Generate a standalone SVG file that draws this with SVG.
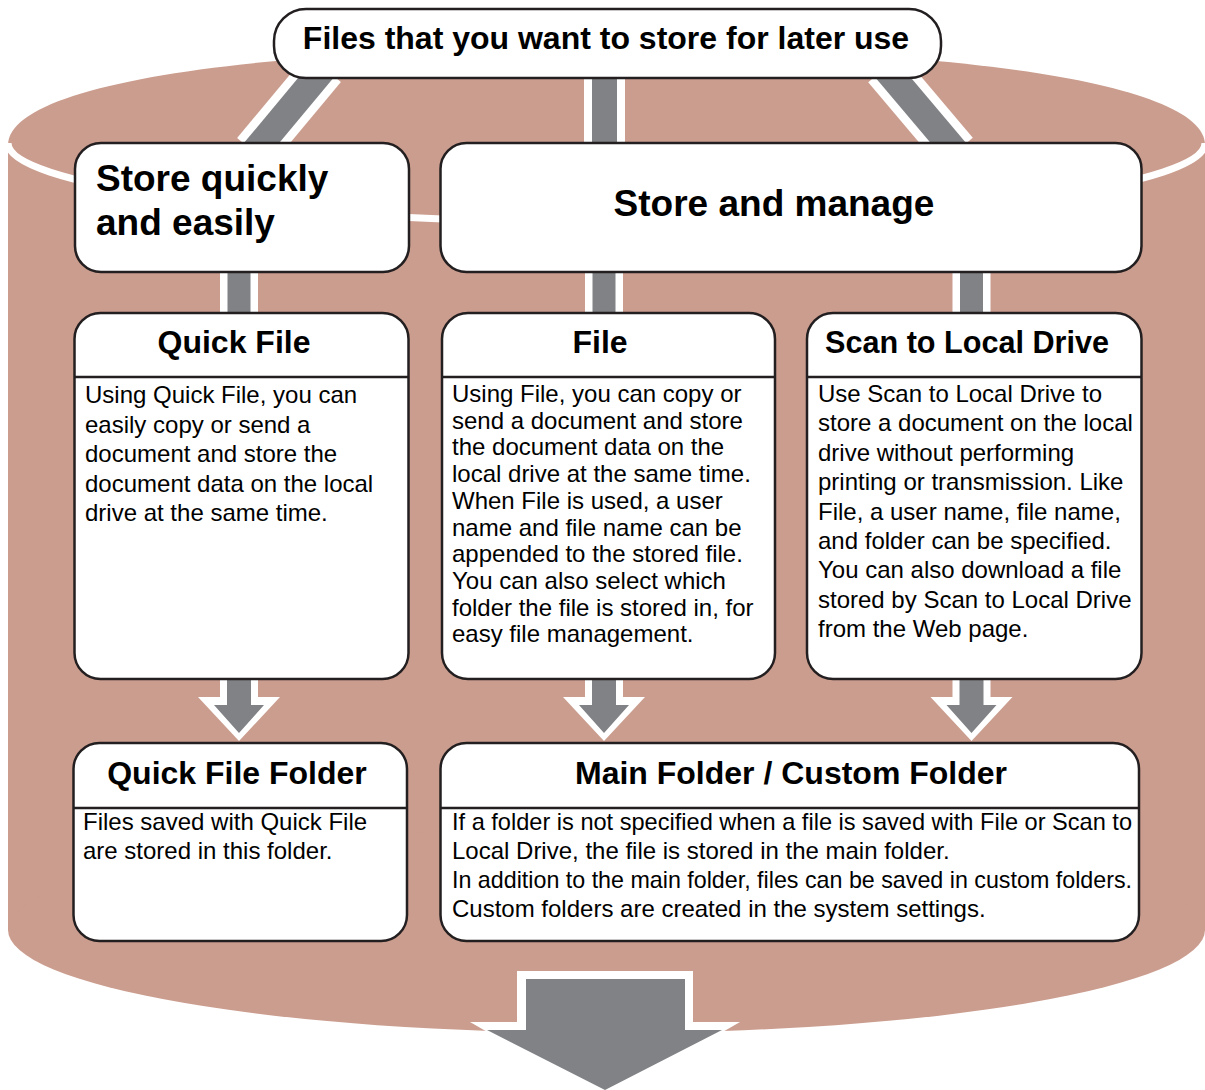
<svg xmlns="http://www.w3.org/2000/svg" xmlns:xlink="http://www.w3.org/1999/xlink" width="1205" height="1090" viewBox="0 0 1205 1090">
<style>
.pink{fill:#cb9d8e}
.box{fill:#fff;stroke:#231f20;stroke-width:2.5}
.dv{stroke:#231f20;stroke-width:2.5;fill:none}
.t{font-family:"Liberation Sans",Arial,Helvetica,sans-serif;fill:#000}
.big{font-size:37px;font-weight:bold}
.hd{font-size:32px;font-weight:bold}
.bd{font-size:24px}
.wb{stroke:#fff;fill:none}
.gb{stroke:#808285;fill:none}
.wf{fill:#fff}
.gf{fill:#808285}
</style>
<defs>
<g id="downArrow">
<polygon class="wf" points="-19,0 19,0 19,19 41,19 0,63 -41,19 -19,19"/>
<polygon class="gf" points="-12,0 12,0 12,27 25,27 0,55 -25,27 -12,27"/>
</g>
</defs>
<rect width="1205" height="1090" fill="#fff"/>
<g id="cylinder">
<path class="pink" d="M8,145 C8,85 240,48 606.5,48 C973,48 1205,85 1205,145 Z"/>
<rect class="pink" x="8" y="143" width="1197" height="787"/>
<ellipse class="pink" cx="606.5" cy="930" rx="598.5" ry="103"/>
<path d="M8,143 A598.5,79 0 0 0 1205,143" fill="none" stroke="#fff" stroke-width="7"/>
</g>
<g id="connectors">
<line class="wb" x1="324" y1="68" x2="254" y2="152" stroke-width="44"/>
<line class="gb" x1="324" y1="68" x2="254" y2="152" stroke-width="27"/>
<line class="wb" x1="604.5" y1="70" x2="604.5" y2="150" stroke-width="41"/>
<line class="gb" x1="604.5" y1="70" x2="604.5" y2="150" stroke-width="25"/>
<line class="wb" x1="885" y1="68" x2="956" y2="152" stroke-width="44"/>
<line class="gb" x1="885" y1="68" x2="956" y2="152" stroke-width="27"/>
<line class="wb" x1="239" y1="265" x2="239" y2="320" stroke-width="38"/>
<line class="gb" x1="239" y1="265" x2="239" y2="320" stroke-width="23"/>
<line class="wb" x1="604" y1="265" x2="604" y2="320" stroke-width="38"/>
<line class="gb" x1="604" y1="265" x2="604" y2="320" stroke-width="23"/>
<line class="wb" x1="971.5" y1="265" x2="971.5" y2="320" stroke-width="38"/>
<line class="gb" x1="971.5" y1="265" x2="971.5" y2="320" stroke-width="23"/>
<use xlink:href="#downArrow" x="239" y="678"/>
<use xlink:href="#downArrow" x="604" y="678"/>
<use xlink:href="#downArrow" x="971.5" y="678"/>
<polygon class="wf" points="517,971 693,971 693,1022 740,1022 605,1100 470,1022 517,1022"/>
<polygon class="gf" points="526,979 685,979 685,1030 722,1030 605,1090 487,1030 526,1030"/>
</g>
<g id="node-top">
<rect class="box" x="274" y="9" width="667" height="69" rx="32"/>
<text class="t hd" x="606" y="49" text-anchor="middle">Files that you want to store for later use</text>
</g>
<g id="node-store-quickly">
<rect class="box" x="75" y="143" width="334" height="129" rx="26"/>
<text class="t big" x="96" y="191">Store quickly</text>
<text class="t big" x="96" y="235">and easily</text>
</g>
<g id="node-store-manage">
<rect class="box" x="440.5" y="143" width="701" height="129" rx="26"/>
<text class="t big" x="774" y="216" text-anchor="middle">Store and manage</text>
</g>
<g id="node-quick-file">
<rect class="box" x="74.5" y="313" width="334" height="366" rx="26"/>
<line class="dv" x1="74.5" y1="377" x2="408.5" y2="377"/>
<text class="t hd" x="234" y="353" text-anchor="middle">Quick File</text>
<text class="t bd" x="85">
<tspan x="85" y="403">Using Quick File, you can</tspan>
<tspan x="85" y="432.5">easily copy or send a</tspan>
<tspan x="85" y="462">document and store the</tspan>
<tspan x="85" y="491.5">document data on the local</tspan>
<tspan x="85" y="521">drive at the same time.</tspan>
</text>
</g>
<g id="node-file">
<rect class="box" x="442" y="313" width="333" height="366" rx="26"/>
<line class="dv" x1="442" y1="377" x2="775" y2="377"/>
<text class="t hd" x="600" y="353" text-anchor="middle">File</text>
<text class="t bd">
<tspan x="452" y="402">Using File, you can copy or</tspan>
<tspan x="452" y="428.7">send a document and store</tspan>
<tspan x="452" y="455.4">the document data on the</tspan>
<tspan x="452" y="482.1">local drive at the same time.</tspan>
<tspan x="452" y="508.8">When File is used, a user</tspan>
<tspan x="452" y="535.5">name and file name can be</tspan>
<tspan x="452" y="562.2">appended to the stored file.</tspan>
<tspan x="452" y="588.9">You can also select which</tspan>
<tspan x="452" y="615.6">folder the file is stored in, for</tspan>
<tspan x="452" y="642.3">easy file management.</tspan>
</text>
</g>
<g id="node-scan">
<rect class="box" x="807" y="313" width="334.5" height="366" rx="26"/>
<line class="dv" x1="807" y1="377" x2="1141.5" y2="377"/>
<text class="t hd" x="967" y="353" text-anchor="middle" textLength="284" lengthAdjust="spacingAndGlyphs">Scan to Local Drive</text>
<text class="t bd">
<tspan x="818" y="402">Use Scan to Local Drive to</tspan>
<tspan x="818" y="431.4">store a document on the local</tspan>
<tspan x="818" y="460.8">drive without performing</tspan>
<tspan x="818" y="490.2">printing or transmission. Like</tspan>
<tspan x="818" y="519.6">File, a user name, file name,</tspan>
<tspan x="818" y="549">and folder can be specified.</tspan>
<tspan x="818" y="578.4">You can also download a file</tspan>
<tspan x="818" y="607.8">stored by Scan to Local Drive</tspan>
<tspan x="818" y="637.2">from the Web page.</tspan>
</text>
</g>
<g id="node-quick-folder">
<rect class="box" x="73.5" y="743" width="333.5" height="198" rx="26"/>
<line class="dv" x1="73.5" y1="808" x2="407" y2="808"/>
<text class="t hd" x="237" y="784" text-anchor="middle">Quick File Folder</text>
<text class="t bd">
<tspan x="83" y="830">Files saved with Quick File</tspan>
<tspan x="83" y="859">are stored in this folder.</tspan>
</text>
</g>
<g id="node-main-folder">
<rect class="box" x="440.5" y="743" width="698.5" height="198" rx="26"/>
<line class="dv" x1="440.5" y1="808" x2="1139" y2="808"/>
<text class="t hd" x="791" y="784" text-anchor="middle">Main Folder / Custom Folder</text>
<text class="t bd" x="452" y="830" textLength="680" lengthAdjust="spacingAndGlyphs">If a folder is not specified when a file is saved with File or Scan to</text>
<text class="t bd" x="452" y="859">Local Drive, the file is stored in the main folder.</text>
<text class="t bd" x="452" y="888" textLength="680" lengthAdjust="spacingAndGlyphs">In addition to the main folder, files can be saved in custom folders.</text>
<text class="t bd" x="452" y="917">Custom folders are created in the system settings.</text>
</g>
</svg>
